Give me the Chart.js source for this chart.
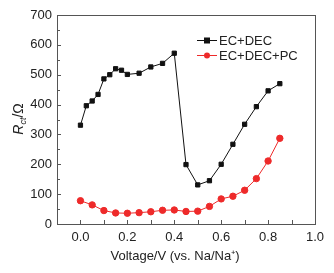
<!DOCTYPE html>
<html>
<head>
<meta charset="utf-8">
<script src="https://cdn.jsdelivr.net/npm/chart.js@4.4.1/dist/chart.umd.min.js"></script>
<style>
  html, body { margin: 0; padding: 0; background: #fff; }
  #wrap { width: 334px; height: 273px; }
</style>
</head>
<body>
<div id="wrap"><canvas id="rctChart" width="334" height="273"></canvas></div>
<script>
// voltages (V vs. Na/Na+)
var voltageDec = [0, 0.025, 0.05, 0.075, 0.1, 0.125, 0.15, 0.175, 0.2, 0.25, 0.3, 0.35, 0.4, 0.45, 0.5, 0.55, 0.6, 0.65, 0.7, 0.75, 0.8, 0.85];
var rctDec = [331, 396, 412, 434, 486, 500, 520, 515, 501, 505, 526, 538, 572, 199, 131, 145, 200, 267, 334, 393, 446, 470];

var voltagePc = [0, 0.05, 0.1, 0.15, 0.2, 0.25, 0.3, 0.35, 0.4, 0.45, 0.5, 0.55, 0.6, 0.65, 0.7, 0.75, 0.8, 0.85];
var rctPc = [78, 64, 45, 37, 36, 38, 41, 46, 47, 42, 43, 59, 84, 93, 113, 152, 211, 287];

var seriesLabels = ['EC+DEC', 'EC+DEC+PC'];
var yTickLabels = [0, 100, 200, 300, 400, 500, 600, 700];
var xTickLabels = [0.0, 0.2, 0.4, 0.6, 0.8, 1.0];

var FONT = '"Liberation Sans", Arial, sans-serif';

function toPoints(xs, ys) {
    return xs.map(function (x, i) { return { x: x, y: ys[i] }; });
}

function isLabelled(list, v) {
    return list.some(function (t) { return Math.abs(t - v) < 1e-6; });
}

// inward ticks, frame, axis titles and legend
var decorations = {
    id: 'decorations',
    afterDraw: function (chart) {
        var c = chart.ctx;
        var a = chart.chartArea;
        var xs = chart.scales.x, ys = chart.scales.y;
        c.save();
        c.strokeStyle = '#555';
        c.lineWidth = 1;
        c.strokeRect(Math.round(a.left) + 0.5, Math.round(a.top) + 0.5,
            Math.round(a.right - a.left), Math.round(a.bottom - a.top));

        c.beginPath();
        xs.ticks.forEach(function (t) {
            var px = Math.round(xs.getPixelForValue(t.value)) + 0.5;
            if (px <= a.left + 1 || px >= a.right - 1) return;
            c.moveTo(px, a.bottom);
            c.lineTo(px, a.bottom - 4);
        });
        ys.ticks.forEach(function (t) {
            var py = Math.round(ys.getPixelForValue(t.value)) + 0.5;
            if (py <= a.top + 1 || py >= a.bottom - 1) return;
            var len = isLabelled(yTickLabels, t.value) ? 4 : 3;
            c.moveTo(a.left, py);
            c.lineTo(a.left + len, py);
        });
        c.stroke();

        // x title
        c.fillStyle = '#222';
        c.font = '13px ' + FONT;
        c.textBaseline = 'middle';
        c.textAlign = 'center';
        c.fillText('Voltage/V (vs. Na/Na\u207A)', 175, 256);

        // y title R_ct/Ω
        c.save();
        c.translate(18, 119);
        c.rotate(-Math.PI / 2);
        c.textAlign = 'left';
        c.textBaseline = 'alphabetic';
        var fullW;
        c.font = 'italic 14px ' + FONT;
        var wR = c.measureText('R').width;
        c.font = 'italic 9px ' + FONT;
        var wSub = c.measureText('ct').width;
        c.font = '14px ' + FONT;
        var wRest = c.measureText('/\u03A9').width;
        fullW = wR + wSub + wRest;
        var x0 = -fullW / 2;
        c.font = 'italic 14px ' + FONT;
        c.fillText('R', x0, 5);
        c.font = 'italic 9px ' + FONT;
        c.fillText('ct', x0 + wR, 8);
        c.font = '14px ' + FONT;
        c.fillText('/\u03A9', x0 + wR + wSub, 5);
        c.restore();

        // legend
        var legendY = [40, 55];
        chart.data.datasets.forEach(function (ds, i) {
            var y = legendY[i];
            c.strokeStyle = ds.borderColor;
            c.lineWidth = 1;
            c.beginPath();
            c.moveTo(197, y + 0.5);
            c.lineTo(217, y + 0.5);
            c.stroke();
            c.fillStyle = ds.pointBackgroundColor;
            if (ds.pointStyle === 'rect') {
                c.fillRect(204, y - 2.5, 6, 6);
            } else {
                c.beginPath();
                c.arc(207, y + 0.5, 3, 0, Math.PI * 2);
                c.fill();
            }
            c.fillStyle = '#222';
            c.font = '13px ' + FONT;
            c.textAlign = 'left';
            c.textBaseline = 'middle';
            c.fillText(ds.label, 219, y + 1);
        });
        c.restore();
    }
};

var ctx = document.getElementById('rctChart').getContext('2d');
var rctChart = new Chart(ctx, {
    type: 'line',
    data: {
        datasets: [{
            label: seriesLabels[0],
            data: toPoints(voltageDec, rctDec),
            borderColor: '#111',
            backgroundColor: '#111',
            pointBackgroundColor: '#111',
            pointBorderColor: '#111',
            pointStyle: 'rect',
            pointRadius: 3,
            borderWidth: 1,
            tension: 0
        }, {
            label: seriesLabels[1],
            data: toPoints(voltagePc, rctPc),
            borderColor: '#ee2a2a',
            backgroundColor: '#ee2a2a',
            pointBackgroundColor: '#ee2a2a',
            pointBorderColor: '#ee2a2a',
            pointStyle: 'circle',
            pointRadius: 3.2,
            borderWidth: 1,
            tension: 0
        }]
    },
    options: {
        responsive: false,
        animation: false,
        layout: { padding: { top: 15, right: 19, left: 0, bottom: 0 } },
        plugins: {
            legend: { display: false },
            tooltip: { enabled: false }
        },
        scales: {
            x: {
                type: 'linear',
                min: -0.1,
                max: 1.0,
                grid: { display: false, drawTicks: false },
                border: { display: false },
                afterFit: function (scale) { scale.height = 49; },
                afterBuildTicks: function (scale) {
                    var t = [];
                    for (var i = 0; i <= 10; i++) t.push({ value: i / 10 });
                    scale.ticks = t;
                },
                ticks: {
                    padding: 6,
                    color: '#222',
                    font: { family: FONT, size: 13 },
                    maxRotation: 0,
                    autoSkip: false,
                    callback: function (v) {
                        return isLabelled(xTickLabels, v) ? v.toFixed(1) : '';
                    }
                }
            },
            y: {
                min: 0,
                max: 700,
                grid: { display: false, drawTicks: false },
                border: { display: false },
                afterFit: function (scale) { scale.width = 57; },
                ticks: {
                    stepSize: 50,
                    padding: 5,
                    color: '#222',
                    font: { family: FONT, size: 13 },
                    autoSkip: false,
                    callback: function (v) {
                        return isLabelled(yTickLabels, v) ? String(v) : '';
                    }
                }
            }
        }
    },
    plugins: [decorations]
});
</script>
</body>
</html>
